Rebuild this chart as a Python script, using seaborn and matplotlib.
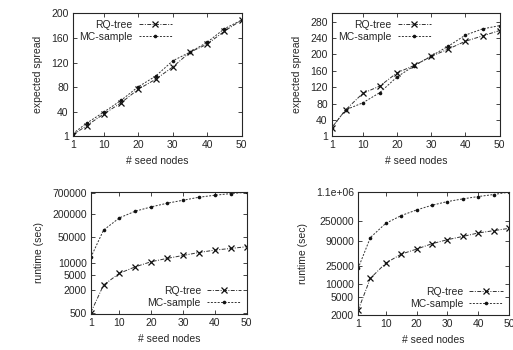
import matplotlib
matplotlib.use("Agg")
import matplotlib.pyplot as plt
import seaborn as sns
import pandas as pd
from matplotlib.ticker import FixedLocator, FixedFormatter, NullLocator

# 数据
seeds = [1, 5, 10, 15, 20, 25, 30, 35, 40, 45, 50]

spread_a_rq = [3, 18, 37, 55, 77, 93, 113, 137, 150, 171, 189]
spread_a_mc = [5, 22, 40, 59, 81, 98, 123, 137, 153, 175, 189]

spread_b_rq = [22, 65, 105, 123, 155, 173, 195, 213, 232, 245, 258]
spread_b_mc = [22, 65, 82, 107, 145, 172, 196, 220, 247, 262, 270]

runtime_a_rq = [500, 2650, 5400, 8000, 10900, 13300, 15900, 19000, 22000, 24300, 27000]
runtime_a_mc = [14100, 73600, 155000, 232000, 301000, 376000, 450000, 540000, 610000, 673000, 730000]

runtime_b_rq = [2540, 13200, 28700, 45600, 59000, 77800, 95600, 113000, 135000, 152000, 171000]
runtime_b_mc = [21800, 107000, 222000, 330000, 441000, 561000, 678000, 778000, 877000, 973000, 1100000]

spread_a_ticks = [1, 40, 80, 120, 160, 200]
spread_b_ticks = [1, 40, 80, 120, 160, 200, 240, 280]
runtime_a_ticks = [500, 2000, 5000, 10000, 50000, 200000, 700000]
runtime_a_labels = ['500', '2000', '5000', '10000', '50000', '200000', '700000']
runtime_b_ticks = [2000, 5000, 10000, 25000, 90000, 250000, 1100000]
runtime_b_labels = ['2000', '5000', '10000', '25000', '90000', '250000', '1.1e+06']
x_ticks = [1, 10, 20, 30, 40, 50]

sns.set_style("ticks")
plt.rcParams['font.family'] = ['Liberation Sans', 'DejaVu Sans']
plt.rcParams['font.size'] = 7.5

fig = plt.figure(figsize=(5.13, 3.5), dpi=100)

# 每个子图的位置
positions = [
    [0.142, 0.611, 0.329, 0.351],
    [0.647, 0.611, 0.327, 0.351],
    [0.177, 0.103, 0.304, 0.349],
    [0.698, 0.100, 0.294, 0.351],
]

panels = [
    (spread_a_rq, spread_a_mc, 'expected spread', False, (1, 200), spread_a_ticks, None, 'upper left'),
    (spread_b_rq, spread_b_mc, 'expected spread', False, (1, 300), spread_b_ticks, None, 'upper left'),
    (runtime_a_rq, runtime_a_mc, 'runtime (sec)', True, (460, 750000), runtime_a_ticks, runtime_a_labels, 'lower right'),
    (runtime_b_rq, runtime_b_mc, 'runtime (sec)', True, (2000, 1.1e6), runtime_b_ticks, runtime_b_labels, 'lower right'),
]

line_color = '#333333'

for pos, (rq, mc, ylabel, logy, ylim, yticks, ylabels, loc) in zip(positions, panels):
    ax = fig.add_axes(pos)
    df_rq = pd.DataFrame({'seeds': seeds, 'value': rq})
    df_mc = pd.DataFrame({'seeds': seeds, 'value': mc})
    sns.lineplot(data=df_rq, x='seeds', y='value', ax=ax, color=line_color, lw=0.7,
                 marker='x', markersize=4, markeredgewidth=0.9,
                 markeredgecolor='#111111', label='RQ-tree')
    sns.lineplot(data=df_mc, x='seeds', y='value', ax=ax, color=line_color, lw=0.7,
                 marker='o', markersize=2.6, markeredgewidth=0,
                 markerfacecolor='#111111', label='MC-sample')
    ax.lines[0].set_dashes((4, 1.5, 1, 1.5))
    ax.lines[1].set_dashes((2, 1.5))

    if logy:
        ax.set_yscale('log')
    ax.set_ylim(*ylim)
    ax.set_xlim(1, 50)
    ax.yaxis.set_major_locator(FixedLocator(yticks))
    if ylabels is not None:
        ax.yaxis.set_major_formatter(FixedFormatter(ylabels))
    ax.yaxis.set_minor_locator(NullLocator())
    ax.xaxis.set_major_locator(FixedLocator(x_ticks))
    ax.xaxis.set_minor_locator(NullLocator())

    ax.set_xlabel('# seed nodes', fontsize=7.5, labelpad=4)
    ax.set_ylabel(ylabel, fontsize=7.5, labelpad=6)
    ax.tick_params(direction='in', length=3, width=0.6, top=True, right=True,
                   labelsize=7.5, pad=3)
    for s in ax.spines.values():
        s.set_linewidth(0.8)
        s.set_visible(True)

    leg = ax.legend(loc=loc, frameon=False, markerfirst=False, handlelength=3.2,
                    fontsize=7.5, labelspacing=0.2, borderaxespad=0.2, handletextpad=0.6)

plt.savefig('out.png', dpi=100)
